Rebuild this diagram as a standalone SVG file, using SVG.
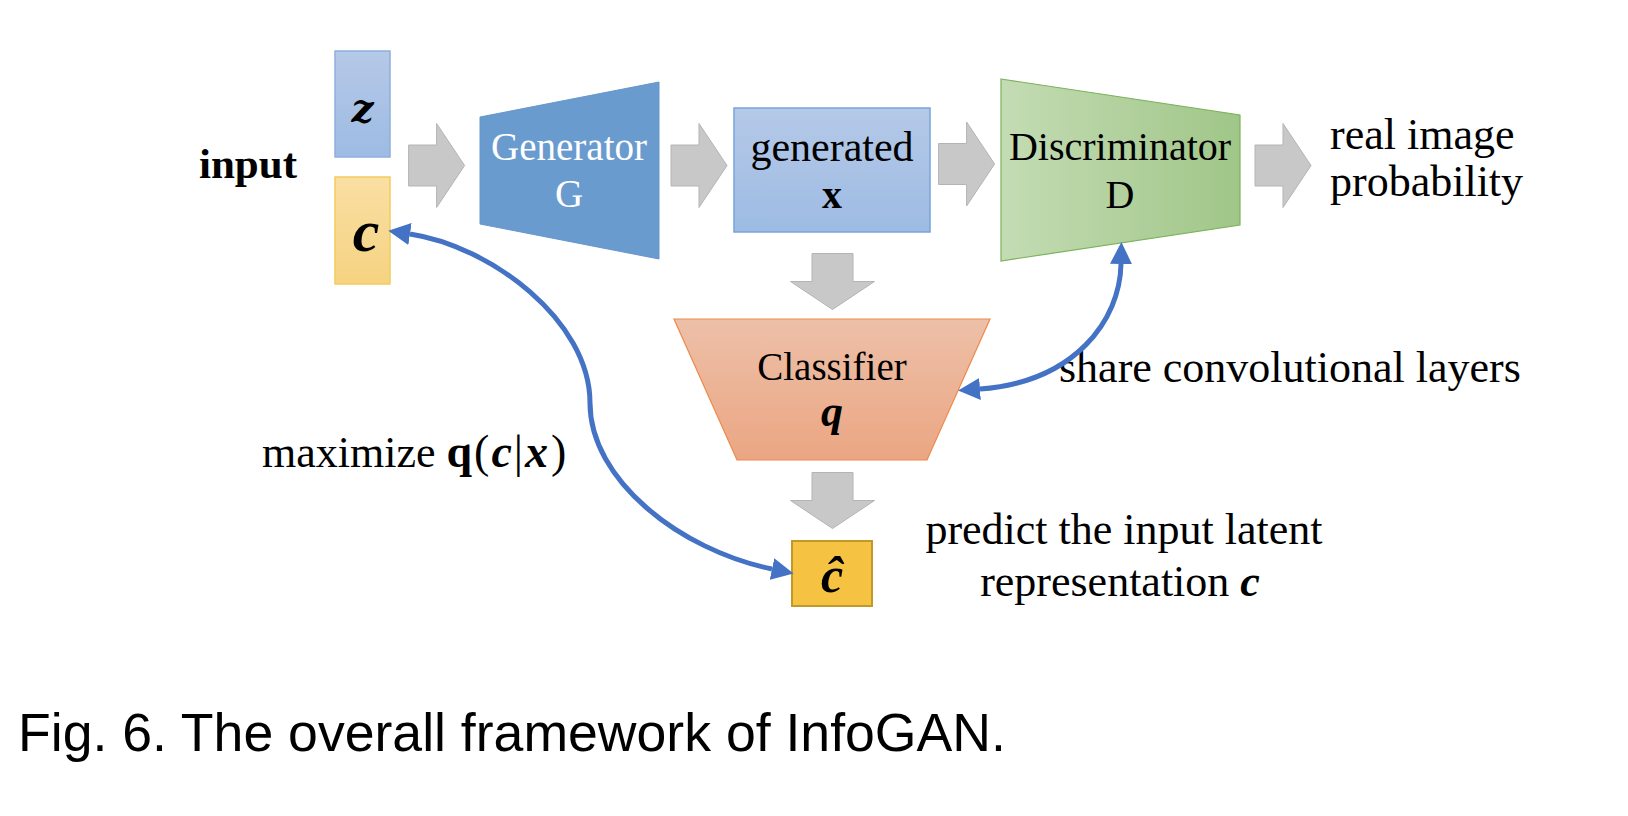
<svg xmlns="http://www.w3.org/2000/svg" xmlns:xlink="http://www.w3.org/1999/xlink" width="1628" height="816" viewBox="0 0 1628 816">
<style>
.t{font-family:"Liberation Serif","Times New Roman",serif;fill:#000}
.mi{font-family:"Liberation Serif","Times New Roman",serif;font-style:italic;font-weight:bold;fill:#000}
.cap{font-family:"Liberation Sans",Arial,sans-serif;fill:#000}
.garrow{fill:#c8c8c8;stroke:#b4b4b4;stroke-width:1}
.blue{fill:none;stroke:#4472c4;stroke-width:5}
</style>
<defs>
<linearGradient id="gBlue" x1="0" y1="0" x2="0" y2="1"><stop offset="0" stop-color="#b5c9e8"/><stop offset="1" stop-color="#9dbbe3"/></linearGradient>
<linearGradient id="gYel" x1="0" y1="0" x2="0" y2="1"><stop offset="0" stop-color="#f9dfa3"/><stop offset="1" stop-color="#f6d382"/></linearGradient>
<linearGradient id="gGreen" x1="0" y1="0" x2="1" y2="0"><stop offset="0" stop-color="#c4dcb4"/><stop offset="1" stop-color="#a0c688"/></linearGradient>
<linearGradient id="gOr" x1="0" y1="0" x2="0" y2="1"><stop offset="0" stop-color="#edc0a8"/><stop offset="1" stop-color="#eba683"/></linearGradient>
<path id="ra" d="M0,-20.5 H28 V-42 L56,0 L28,42 V20.5 H0 Z"/>
<marker id="ah" markerUnits="userSpaceOnUse" markerWidth="22" markerHeight="22" viewBox="0 0 20 20" refX="0" refY="10" orient="auto-start-reverse">
<path d="M0,0 L20,10 L0,20 Z" fill="#4472c4"/>
</marker>
</defs>
<rect width="1628" height="816" fill="#fff"/>

<g id="input-label"><text class="t" x="199" y="178" font-size="43" font-weight="bold">input</text></g>

<g id="node-z">
<rect x="335" y="51" width="55" height="106" fill="url(#gBlue)" stroke="#8eaedc" stroke-width="1.5"/>
<text x="362.5" y="122" text-anchor="middle" font-family="'DejaVu Serif',serif" font-style="italic" font-weight="bold" font-size="39">z</text>
</g>

<g id="node-c">
<rect x="335" y="177" width="55" height="107" fill="url(#gYel)" stroke="#f3cc5c" stroke-width="1.5"/>
<text class="mi" x="366" y="251" text-anchor="middle" font-size="60">c</text>
</g>

<g id="node-generator">
<polygon points="480,117 659,82 659,259 480,224" fill="#6a9bcf" stroke="#6596cc" stroke-width="1"/>
<text class="t" x="569" y="160" text-anchor="middle" font-size="39" style="fill:#fff">Generator</text>
<text class="t" x="569" y="207" text-anchor="middle" font-size="39" style="fill:#fff">G</text>
</g>

<g id="node-generated">
<rect x="734" y="108" width="196" height="124" fill="url(#gBlue)" stroke="#7aa3da" stroke-width="1.5"/>
<text class="t" x="832" y="161" text-anchor="middle" font-size="42">generated</text>
<text class="t" x="832" y="208" text-anchor="middle" font-size="40" font-weight="bold">x</text>
</g>

<g id="node-discriminator">
<polygon points="1001,79 1240,115 1240,225 1001,261" fill="url(#gGreen)" stroke="#7cb25a" stroke-width="1.2"/>
<text class="t" x="1120" y="160" text-anchor="middle" font-size="40">Discriminator</text>
<text class="t" x="1120" y="208" text-anchor="middle" font-size="40">D</text>
</g>

<g id="node-output"><text class="t" font-size="44"><tspan x="1330" y="149">real image</tspan><tspan x="1330" y="196">probability</tspan></text></g>

<g id="node-classifier">
<polygon points="674,319 990,319 927,460 737,460" fill="url(#gOr)" stroke="#ed8a4c" stroke-width="1.2"/>
<text class="t" x="832" y="380" text-anchor="middle" font-size="39">Classifier</text>
<text class="mi" x="832" y="426" text-anchor="middle" font-size="44">q</text>
</g>

<g id="node-chat">
<rect x="792" y="541" width="80" height="65" fill="#f5c242" stroke="#bf9a2a" stroke-width="2"/>
<text class="mi" x="832" y="592" text-anchor="middle" font-size="50">ĉ</text>
</g>

<g id="labels">
<text class="t" x="1059" y="382" font-size="44">share convolutional layers</text>
<text class="t" x="262" y="467" font-size="44">maximize <tspan font-weight="bold" font-size="46">q</tspan><tspan font-size="46" dx="2">(</tspan><tspan font-weight="bold" font-style="italic" font-size="46" dx="2">c</tspan><tspan font-size="46" dx="2">|</tspan><tspan font-weight="bold" font-style="italic" font-size="46" dx="2">x</tspan><tspan font-size="46" dx="3">)</tspan></text>
<text class="t" font-size="44" text-anchor="middle"><tspan x="1124" y="544">predict the input latent</tspan><tspan x="1120" y="596">representation <tspan font-weight="bold" font-style="italic">c</tspan></tspan></text>
</g>

<g id="connectors">
<use xlink:href="#ra" href="#ra" class="garrow" transform="translate(408.6,165.5)"/>
<use xlink:href="#ra" href="#ra" class="garrow" transform="translate(671,165.5)"/>
<use xlink:href="#ra" href="#ra" class="garrow" transform="translate(938.6,164)"/>
<use xlink:href="#ra" href="#ra" class="garrow" transform="translate(1255,165.5)"/>
<use xlink:href="#ra" href="#ra" class="garrow" transform="translate(832.5,253.5) rotate(90)"/>
<use xlink:href="#ra" href="#ra" class="garrow" transform="translate(832.5,472.5) rotate(90)"/>
<path class="blue" d="M410,234 C490,246 590,320 590,403 C590,480 680,550 772,569" marker-start="url(#ah)" marker-end="url(#ah)"/>
<path class="blue" d="M1121,264 C1120,320 1075,382 980,389" marker-start="url(#ah)" marker-end="url(#ah)"/>
</g>

<g id="caption"><text class="cap" x="18" y="751" font-size="53.6">Fig. 6. The overall framework of InfoGAN.</text></g>
</svg>
